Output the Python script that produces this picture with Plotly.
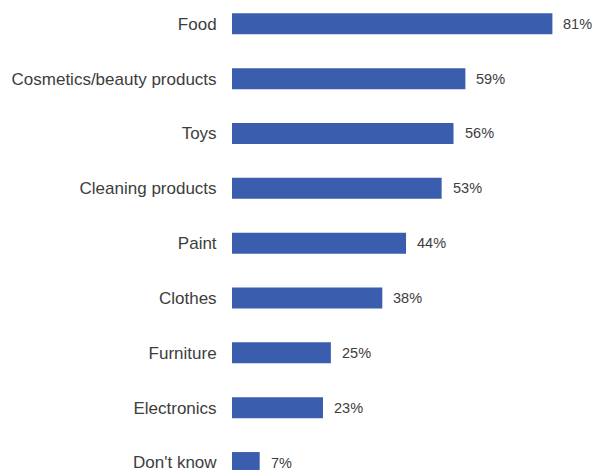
import plotly.graph_objects as go

categories = ["Food", "Cosmetics/beauty products", "Toys", "Cleaning products",
              "Paint", "Clothes", "Furniture", "Electronics", "Don't know"]
values = [81, 59, 56, 53, 44, 38, 25, 23, 7]
value_labels = [f"{v}%" for v in values]

bar_color = "#3A5DAE"
text_color = "#3d3d3d"

fig = go.Figure()
fig.add_trace(go.Bar(
    x=values,
    y=categories,
    orientation="h",
    marker=dict(color=bar_color, line=dict(width=0)),
    hoverinfo="skip",
))

for c, v, t in zip(categories, values, value_labels):
    fig.add_annotation(
        x=v, y=c, text=t, showarrow=False,
        xanchor="left", yanchor="middle", xshift=9,
        font=dict(family="Liberation Sans, Arial, sans-serif", size=14.5, color=text_color),
    )

fig.update_layout(
    width=594, height=470,
    margin=dict(l=232, r=6, t=0, b=0, autoexpand=False),
    paper_bgcolor="white",
    plot_bgcolor="white",
    bargap=0.617,
    showlegend=False,
    font=dict(family="Liberation Sans, Arial, sans-serif", size=17, color=text_color),
)
fig.update_xaxes(
    range=[0, 90], visible=False, showgrid=False, zeroline=False, fixedrange=True,
)
fig.update_yaxes(
    type="category",
    categoryorder="array", categoryarray=categories,
    range=[8.136, -0.434],
    showgrid=False, zeroline=False, showline=False,
    ticks="outside", ticklen=11, tickcolor="rgba(0,0,0,0)",
    tickfont=dict(size=17, color=text_color),
    automargin=False,
)

fig.write_html(
    "out.html",
    config={"displayModeBar": False},
    post_script="document.body.style.margin='0';document.body.style.overflow='hidden';",
)
